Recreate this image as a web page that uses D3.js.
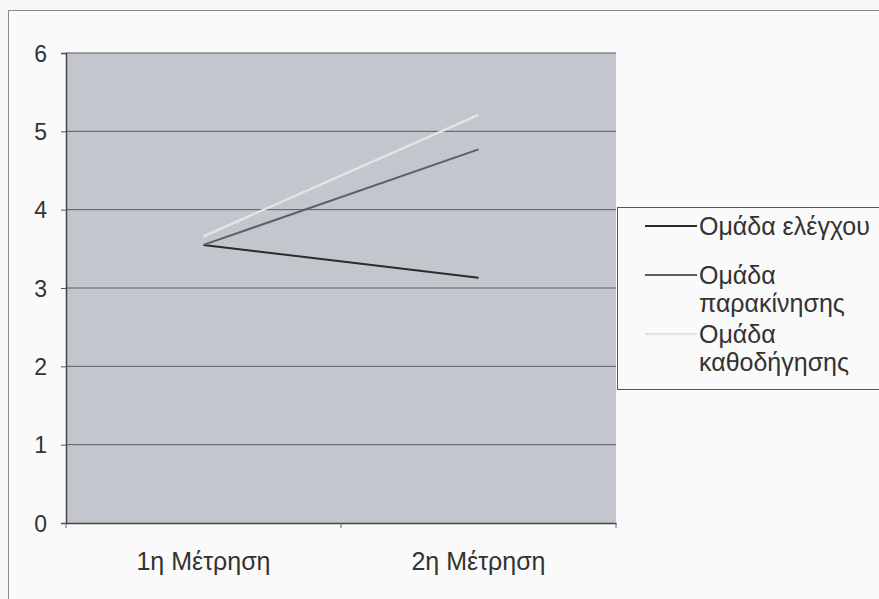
<!DOCTYPE html>
<html><head><meta charset="utf-8">
<script src="https://cdn.jsdelivr.net/npm/d3@7"></script>
<style>body{margin:0;background:#f7f7f7}svg{display:block}</style>
</head><body><svg width="879" height="599"></svg>
<script>
const categories = ["1η Μέτρηση", "2η Μέτρηση"];
const seriesNames = ["Ομάδα ελέγχου", "Ομάδα παρακίνησης", "Ομάδα καθοδήγησης"];
const controlValues = [3.55, 3.13];
const motivationValues = [3.55, 4.77];
const guidanceValues = [3.66, 5.21];
const yTicks = [0, 1, 2, 3, 4, 5, 6];

const svg = d3.select("svg");
const font = "'Liberation Sans', Arial, sans-serif";
svg.append("rect").attr("x", 0).attr("y", 0).attr("width", 879).attr("height", 599).attr("fill", "#f7f7f7");
svg.append("rect").attr("x", 8.5).attr("y", 10.5).attr("width", 880).attr("height", 600)
  .attr("fill", "#fafafa").attr("stroke", "#8a8a8a").attr("stroke-width", 1);

const x = d3.scaleBand().domain(categories).range([66, 616]);
const y = d3.scaleLinear().domain([0, 6]).range([523, 53]);

svg.append("rect").attr("x", 66).attr("y", y(6)).attr("width", 550).attr("height", y(0) - y(6)).attr("fill", "#c3c6cc");

svg.append("g").selectAll("line").data(yTicks.filter(d => d > 0)).join("line")
  .attr("x1", 66).attr("x2", 616).attr("y1", d => y(d)).attr("y2", d => y(d))
  .attr("stroke", "#5a5c60").attr("stroke-width", 1);

const yAxis = svg.append("g").attr("transform", "translate(66,0)")
  .call(d3.axisLeft(y).tickValues(yTicks).tickSize(5).tickPadding(14).tickFormat(d3.format("d")));
yAxis.select(".domain").attr("stroke", "#444").attr("stroke-width", 1.5);
yAxis.selectAll(".tick line").attr("stroke", "#555");
yAxis.selectAll("text").attr("font-family", font).attr("font-size", 23).attr("fill", "#333").attr("dy", "0.36em");

const xAxis = svg.append("g").attr("transform", `translate(0,${y(0)})`)
  .call(d3.axisBottom(x).tickSize(0).tickPadding(29));
xAxis.select(".domain").attr("stroke", "#444").attr("stroke-width", 1.5);
xAxis.selectAll("text").attr("font-family", font).attr("font-size", 25).attr("fill", "#333");
svg.append("g").selectAll("line").data([66, 616, 341]).join("line")
  .attr("x1", d => d).attr("x2", d => d).attr("y1", y(0)).attr("y2", y(0) + 5)
  .attr("stroke", "#666");

const series = [
  {name: seriesNames[0], values: controlValues, color: "#2b2b2d", w: 2},
  {name: seriesNames[1], values: motivationValues, color: "#5c5f63", w: 2},
  {name: seriesNames[2], values: guidanceValues, color: "#e2e4e7", w: 2.5}
];
const line = d3.line().x((d, i) => x(categories[i]) + x.bandwidth() / 2).y(d => y(d));
svg.append("g").selectAll("path").data(series).join("path")
  .attr("d", d => line(d.values)).attr("fill", "none")
  .attr("stroke", d => d.color).attr("stroke-width", d => d.w);

// legend
const lg = svg.append("g");
lg.append("rect").attr("x", 617.5).attr("y", 207.5).attr("width", 270).attr("height", 182)
  .attr("fill", "#fafafa").attr("stroke", "#555").attr("stroke-width", 1);
const legendRows = [
  {lines: ["Ομάδα ελέγχου"], y: 226},
  {lines: ["Ομάδα", "παρακίνησης"], y: 275},
  {lines: ["Ομάδα", "καθοδήγησης"], y: 334}
];
legendRows.forEach((r, i) => {
  lg.append("line").attr("x1", 645).attr("x2", 697).attr("y1", r.y).attr("y2", r.y)
    .attr("stroke", series[i].color).attr("stroke-width", series[i].w);
  const t = lg.append("text").attr("x", 699).attr("y", r.y + 9)
    .attr("font-family", font).attr("font-size", 25).attr("fill", "#333");
  r.lines.forEach((s, j) => t.append("tspan").attr("x", 699).attr("dy", j === 0 ? 0 : 28).text(s));
});
</script></body></html>
